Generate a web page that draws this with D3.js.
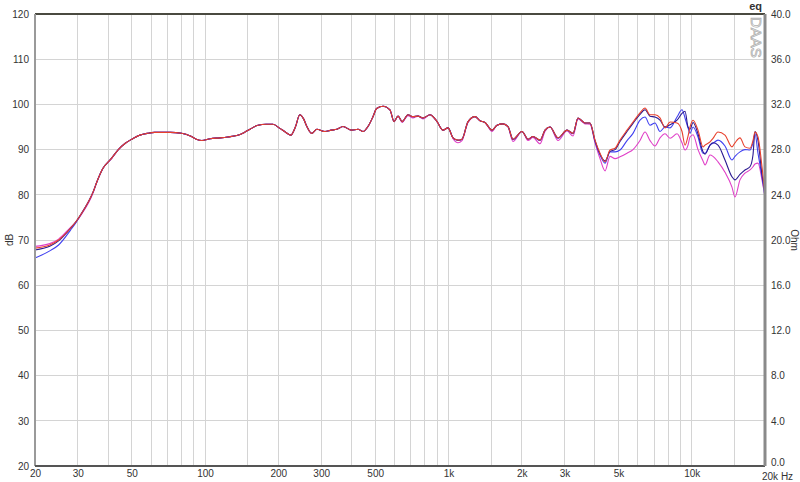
<!DOCTYPE html>
<html>
<head>
<meta charset="utf-8">
<script src="https://cdn.jsdelivr.net/npm/d3@7"></script>
<style>
  body { margin: 0; background: #fff; }
  svg text { font-family: "Liberation Sans", Arial, sans-serif; font-size: 10px; fill: #333; }
</style>
</head>
<body>
<div id="chart"></div>
<script>
// frequencies (Hz)
var freqs = [20, 23, 25, 28, 29.5, 31, 34.7, 36, 38, 41.3,
  44, 47, 50, 54, 58, 62, 72, 80, 87, 92,
  97, 105, 115, 124, 135, 145, 153, 165, 178, 190,
  203, 215, 225, 235, 245, 254, 262, 274, 288, 311,
  330, 348, 369, 400, 425, 446, 467, 490, 507, 539,
  575, 598, 621, 645, 682, 715, 750, 786, 840, 898,
  950, 996, 1045, 1095, 1137, 1204, 1286, 1349, 1414, 1511,
  1584, 1676, 1758, 1842, 2006, 2124, 2226, 2378, 2494, 2615,
  2822, 3072, 3252, 3409, 3641, 3818, 4004, 4198, 4402, 4614,
  4838, 5072, 5420, 5736, 6128, 6426, 6738, 7064, 7406, 7765,
  8142, 8698, 9120, 9383, 9654, 9838, 10120, 10610, 11124, 11338,
  11886, 12228, 12820, 13696, 14632, 15054, 15784, 16548, 17352, 17850,
  18192, 18716, 19440, 20000];

var redDb = [68.2, 68.9, 70.0, 72.6, 74.1, 75.8, 80.7, 83.0, 85.8, 88.1,
  90.0, 91.4, 92.3, 93.2, 93.6, 93.8, 93.8, 93.6, 93.0, 92.3,
  92.0, 92.4, 92.6, 92.8, 93.1, 93.8, 94.5, 95.4, 95.6, 95.6,
  94.7, 93.8, 93.2, 95.0, 97.7, 96.8, 95.1, 93.6, 94.5, 94.0,
  94.3, 94.5, 95.1, 94.3, 94.5, 94.0, 95.1, 97.3, 99.1, 99.6,
  98.8, 96.2, 97.4, 96.2, 97.7, 97.3, 97.4, 97.0, 97.7, 96.2,
  94.3, 94.8, 92.6, 92.1, 92.3, 96.2, 97.3, 96.4, 96.0, 94.3,
  95.4, 95.7, 95.1, 92.3, 94.0, 92.3, 92.9, 92.1, 94.3, 95.0,
  92.6, 94.3, 93.6, 97.0, 95.9, 95.9, 92.1, 89.2, 87.3, 89.9,
  90.3, 92.1, 94.3, 96.1, 98.1, 99.2, 97.7, 97.7, 97.0, 94.8,
  96.1, 95.9, 94.0, 91.0, 93.0, 95.0, 96.5, 94.3, 90.6, 91.0,
  91.7, 92.5, 93.9, 93.2, 90.6, 91.5, 92.6, 90.6, 90.3, 92.0,
  93.9, 92.8, 86.2, 80.0];

var navyDb = [67.8, 68.6, 69.8, 72.6, 74.1, 75.8, 80.7, 83.0, 85.8, 88.1,
  90.0, 91.4, 92.3, 93.2, 93.6, 93.8, 93.8, 93.6, 93.0, 92.3,
  92.0, 92.4, 92.6, 92.8, 93.1, 93.8, 94.5, 95.4, 95.6, 95.6,
  94.7, 93.8, 93.2, 95.0, 97.7, 96.8, 95.1, 93.6, 94.5, 94.0,
  94.3, 94.5, 95.1, 94.3, 94.5, 94.0, 95.1, 97.3, 99.1, 99.6,
  98.8, 96.2, 97.4, 96.2, 97.7, 97.3, 97.4, 97.0, 97.7, 96.2,
  94.3, 94.8, 92.6, 92.1, 92.3, 96.2, 97.3, 96.4, 96.0, 94.3,
  95.4, 95.7, 95.1, 92.3, 94.0, 92.3, 92.9, 92.1, 94.3, 95.0,
  92.6, 94.3, 93.6, 97.0, 95.9, 95.9, 92.0, 89.0, 87.5, 89.6,
  90.0, 91.8, 94.0, 95.8, 97.8, 98.8, 97.4, 97.2, 96.5, 95.0,
  95.5, 96.5, 98.0, 98.5, 95.0, 94.5, 96.0, 93.5, 89.5, 89.0,
  91.0, 91.5, 91.0, 87.7, 84.0, 83.3, 84.5, 85.5, 86.2, 88.8,
  94.0, 92.0, 84.5, 80.5];

var blueDb = [66.0, 67.6, 68.9, 72.2, 73.9, 75.8, 80.7, 83.0, 85.8, 88.1,
  90.0, 91.4, 92.3, 93.2, 93.6, 93.8, 93.8, 93.6, 93.0, 92.3,
  92.0, 92.4, 92.6, 92.8, 93.1, 93.8, 94.5, 95.4, 95.6, 95.6,
  94.7, 93.8, 93.2, 95.0, 97.7, 96.8, 95.1, 93.6, 94.5, 94.0,
  94.3, 94.5, 95.1, 94.3, 94.5, 94.0, 95.1, 97.3, 99.1, 99.6,
  98.8, 96.2, 97.4, 96.2, 97.7, 97.3, 97.4, 97.0, 97.7, 96.2,
  94.3, 94.8, 92.6, 92.0, 92.3, 96.2, 97.3, 96.4, 96.0, 94.3,
  95.4, 95.7, 95.1, 92.2, 94.0, 92.3, 92.9, 92.0, 94.3, 95.0,
  92.5, 94.3, 93.5, 97.0, 95.9, 95.9, 91.8, 88.8, 87.0, 89.5,
  89.5, 89.9, 92.0, 93.6, 96.5, 97.2, 95.4, 95.9, 94.0, 95.0,
  94.8, 97.2, 98.8, 97.0, 94.8, 93.6, 95.0, 92.8, 89.2, 89.2,
  91.0, 91.4, 92.1, 90.8, 87.7, 88.5, 89.5, 90.0, 89.9, 91.5,
  93.5, 89.2, 84.0, 79.5];

var magentaDb = [68.6, 69.2, 70.2, 72.8, 74.0, 75.6, 80.5, 83.0, 85.8, 88.0,
  90.0, 91.4, 92.3, 93.2, 93.6, 93.8, 93.8, 93.6, 93.0, 92.3,
  92.0, 92.4, 92.6, 92.8, 93.1, 93.8, 94.5, 95.4, 95.6, 95.6,
  94.7, 93.8, 93.2, 95.0, 97.7, 96.8, 95.1, 93.6, 94.5, 94.0,
  94.3, 94.5, 95.1, 94.3, 94.5, 94.0, 95.1, 97.3, 99.1, 99.6,
  98.8, 96.2, 97.4, 96.0, 97.5, 97.0, 97.4, 96.8, 97.7, 96.2,
  94.3, 94.8, 92.4, 91.5, 92.0, 96.0, 97.3, 96.4, 96.0, 94.0,
  95.4, 95.7, 95.0, 91.8, 94.0, 92.0, 92.7, 91.3, 94.0, 95.0,
  92.0, 94.1, 93.0, 96.8, 95.7, 95.6, 91.5, 88.0, 85.3, 88.5,
  88.0, 88.4, 89.2, 90.0, 92.0, 93.9, 92.0, 90.8, 92.6, 93.5,
  92.5, 93.5, 91.5, 89.9, 91.0, 92.8, 93.3, 90.0, 87.5, 86.6,
  88.8, 88.5, 87.3, 85.0, 81.7, 79.5, 83.3, 84.8, 85.5, 86.2,
  86.8, 87.0, 83.3, 79.5];

// grid frequencies and labelled ticks
var gridFreqs = [30, 40, 50, 60, 70, 80, 90, 100, 150, 200, 300, 400, 500, 600, 700, 800, 900,
  1000, 1500, 2000, 3000, 4000, 5000, 6000, 7000, 8000, 9000, 10000, 15000];
var labelFreqs = [20, 30, 50, 100, 200, 300, 500, 1000, 2000, 3000, 5000, 10000];
var labelNames = ["20", "30", "50", "100", "200", "300", "500", "1k", "2k", "3k", "5k", "10k"];
var dbTicks = [20, 30, 40, 50, 60, 70, 80, 90, 100, 110, 120];
var ohmTicks = [0, 4, 8, 12, 16, 20, 24, 28, 32, 36, 40];

var seriesList = [
  {name: "magenta", values: magentaDb, color: "#e040c8"},
  {name: "blue", values: blueDb, color: "#4040f0"},
  {name: "navy", values: navyDb, color: "#2a1890"},
  {name: "red", values: redDb, color: "#e8402c"}
];

var W = 800, H = 482;
var margin = {top: 14, right: 35, bottom: 16, left: 35};
var width = W - margin.left - margin.right,
    height = H - margin.top - margin.bottom;

var svg = d3.select("#chart").append("svg")
  .attr("width", W).attr("height", H);
var g = svg.append("g")
  .attr("transform", "translate(" + margin.left + "," + margin.top + ")");

var x = d3.scaleLog().domain([20, 20000]).range([0, width]);
var y = d3.scaleLinear().domain([20, 120]).range([height, 0]);
var yOhm = d3.scaleLinear().domain([0, 40]).range([height, 0]);

// grid
g.selectAll(".vgrid").data(gridFreqs).enter().append("line")
  .attr("x1", function(d) { return x(d); }).attr("x2", function(d) { return x(d); })
  .attr("y1", 0).attr("y2", height)
  .attr("stroke", "#d4d4d4").attr("shape-rendering", "crispEdges");
g.selectAll(".hgrid").data(dbTicks.slice(1, -1)).enter().append("line")
  .attr("x1", 0).attr("x2", width)
  .attr("y1", function(d) { return y(d); }).attr("y2", function(d) { return y(d); })
  .attr("stroke", "#d4d4d4").attr("shape-rendering", "crispEdges");

// curves
var line = d3.line()
  .x(function(d) { return x(d[0]); })
  .y(function(d) { return y(d[1]); })
  .curve(d3.curveMonotoneX);

seriesList.forEach(function(s) {
  g.append("path")
    .datum(freqs.map(function(f, i) { return [f, s.values[i]]; }))
    .attr("fill", "none")
    .attr("stroke", s.color)
    .attr("stroke-width", 1.1)
    .attr("d", line);
});

// frame
g.append("line").attr("x1", 0).attr("x2", width).attr("y1", 0).attr("y2", 0)
  .attr("stroke", "#4a4a40").attr("stroke-width", 2);
g.append("line").attr("x1", 0).attr("x2", 0).attr("y1", 0).attr("y2", height)
  .attr("stroke", "#9a9a9a").attr("stroke-width", 2);
g.append("line").attr("x1", 0).attr("x2", width).attr("y1", height).attr("y2", height)
  .attr("stroke", "#555").attr("stroke-width", 2);
g.append("line").attr("x1", width).attr("x2", width).attr("y1", 0).attr("y2", height)
  .attr("stroke", "#8a8a8a").attr("stroke-width", 3);

// axes
var xAxis = g.append("g")
  .attr("transform", "translate(0," + height + ")")
  .call(d3.axisBottom(x).tickValues(labelFreqs).tickSize(0).tickPadding(4)
    .tickFormat(function(d, i) { return labelNames[i]; }));
xAxis.select(".domain").remove();
xAxis.selectAll("text").attr("fill", "#333");

g.append("text")
  .attr("x", width - 3).attr("y", height + 14)
  .text("20k Hz");

var yAxis = g.append("g")
  .call(d3.axisLeft(y).tickValues(dbTicks).tickSize(0).tickPadding(6));
yAxis.select(".domain").remove();
yAxis.selectAll("text").attr("fill", "#333");

var yAxisR = g.append("g")
  .attr("transform", "translate(" + width + ",0)")
  .call(d3.axisRight(yOhm).tickValues(ohmTicks).tickSize(0).tickPadding(6)
    .tickFormat(d3.format(".1f")));
yAxisR.select(".domain").remove();
yAxisR.selectAll("text").attr("fill", "#333");
// lift the bottom ohm label clear of the Hz label
yAxisR.selectAll(".tick").filter(function(d) { return d === 0; })
  .select("text").attr("dy", "-0.1em");

// axis titles
svg.append("text")
  .attr("transform", "translate(13,240) rotate(-90)")
  .attr("text-anchor", "middle")
  .text("dB");
svg.append("text")
  .attr("transform", "translate(791,240) rotate(90)")
  .attr("text-anchor", "middle")
  .text("Ohm");

svg.append("text")
  .attr("x", 762).attr("y", 10)
  .attr("text-anchor", "end")
  .style("font-weight", "bold")
  .style("font-size", "11px")
  .text("eq");

// watermark
svg.append("text")
  .attr("transform", "translate(751,17) rotate(90)")
  .style("font-size", "15px")
  .style("fill", "none")
  .attr("stroke", "#b0b0b0")
  .attr("stroke-width", 0.8)
  .text("DAAS");
</script>
</body>
</html>
